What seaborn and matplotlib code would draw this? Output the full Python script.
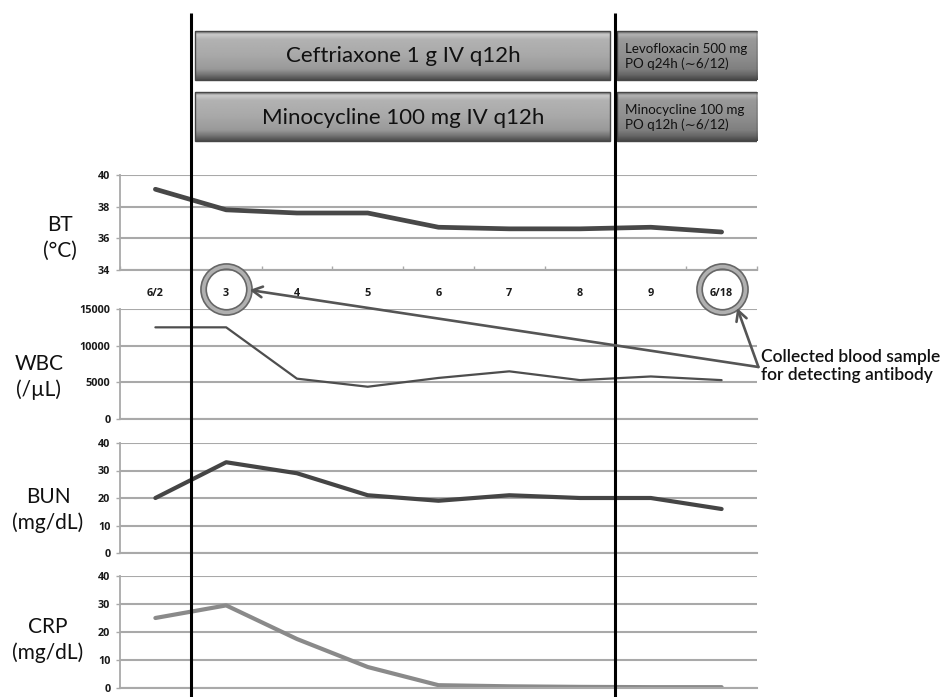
import numpy as np
import pandas as pd
import seaborn as sns
import matplotlib.pyplot as plt
from matplotlib.patches import Rectangle

# ---------------- data ----------------
days = ["6/2", "3", "4", "5", "6", "7", "8", "9", "6/18"]
bt = [39.1, 37.8, 37.6, 37.6, 36.7, 36.6, 36.6, 36.7, 36.4]
wbc = [12500, 12500, 5500, 4400, 5600, 6500, 5300, 5800, 5300]
bun = [20, 33, 29, 21, 19, 21, 20, 20, 16]
crp = [25, 29.5, 17.5, 7.5, 1.0, 0.6, 0.4, 0.3, 0.3]

bt_ticks = [34, 36, 38, 40]
wbc_ticks = [0, 5000, 10000, 15000]
bun_ticks = [0, 10, 20, 30, 40]
crp_ticks = [0, 10, 20, 30, 40]

iv_start = 0.5   # between 6/2 and 3
po_start = 6.5   # between 8 and 9
iv_labels = ["Ceftriaxone 1 g IV q12h", "Minocycline 100 mg IV q12h"]
po_labels = ["Levofloxacin 500 mg\nPO q24h (\u223c6/12)",
             "Minocycline 100 mg\nPO q12h (\u223c6/12)"]
sample_days = ["3", "6/18"]
note = "Collected blood sample\nfor detecting antibody"

# ---------------- style ----------------
sns.set_theme(style="white")
plt.rcParams['font.family'] = ['Lato', 'DejaVu Sans']
TICKFONT = dict(family=['Open Sans', 'DejaVu Sans'], fontweight="bold",
                fontsize=7.8, color="#1a1a1a")

W, H = 945, 697
fig = plt.figure(figsize=(W / 100, H / 100), dpi=100)
fig.patch.set_facecolor("white")


def fax(l, t, r, b):
    return fig.add_axes([l / W, 1 - b / H, (r - l) / W, (b - t) / H])


GRID = "#a9a9a9"
panels = [
    ("BT\n(\u00b0C)", bt, bt_ticks, 175, 270, "#484848", 3.4, (60, 238)),
    ("WBC\n(/\u00b5L)", wbc, wbc_ticks, 309, 419, "#4e4e4e", 1.6, (39, 377)),
    ("BUN\n(mg/dL)", bun, bun_ticks, 443, 553, "#454545", 3.0, (48, 510)),
    ("CRP\n(mg/dL)", crp, crp_ticks, 576, 688, "#8a8a8a", 3.0, (48, 640)),
]

for i, (lab, vals, ticks, top, bot, col, lw, lpos) in enumerate(panels):
    ax = fax(120, top, 757, bot)
    df = pd.DataFrame({"day": days, "v": vals})
    sns.lineplot(data=df, x="day", y="v", ax=ax, color=col, lw=lw,
                 sort=False, solid_capstyle="round")
    ax.set_xlim(-0.5, len(days) - 0.5)
    ax.set_ylim(ticks[0], ticks[-1])
    ax.set_yticks(ticks)
    ax.set_yticklabels([str(t) for t in ticks], **TICKFONT)
    ax.yaxis.grid(True, color=GRID, lw=1.5)
    ax.xaxis.grid(False)
    ax.set_axisbelow(True)
    for s in ("top", "right"):
        ax.spines[s].set_visible(False)
    ax.spines["left"].set_color(GRID)
    ax.spines["left"].set_linewidth(1.3)
    ax.spines["bottom"].set_color(GRID)
    ax.spines["bottom"].set_linewidth(1.5)
    ax.tick_params(axis="y", left=True, length=3, width=1, color=GRID, pad=4)
    ax.set_xlabel("")
    ax.set_ylabel("")
    if i == 0:
        ax.set_xticks(range(len(days)))
        ax.set_xticklabels(days, **TICKFONT)
        ax.tick_params(axis="x", bottom=False, pad=7)
        ax.set_xticks(np.arange(-0.5, len(days)), minor=True)
        ax.tick_params(axis="x", which="minor", bottom=True, direction="in",
                       length=3, color=GRID)
    else:
        ax.set_xticks([])
    fig.text(lpos[0] / W, 1 - lpos[1] / H, lab, ha="center", va="center",
             fontsize=15, linespacing=1.35, color="#111111")

# ---------------- overlay (lines, banners, annotations) ----------------
ov = fig.add_axes([120 / W, 0, 637 / W, 1])
ov.patch.set_visible(False)
ov.axis("off")
xmax = len(days) - 0.5


def banner(x0, x1, y0, y1, dark=False):
    stops_p = [0.0, 0.06, 0.16, 0.5, 0.78, 0.9, 1.0]
    if dark:
        stops_c = [0.40, 0.70, 0.60, 0.56, 0.50, 0.40, 0.28]
    else:
        stops_c = [0.42, 0.80, 0.70, 0.66, 0.60, 0.45, 0.30]
    p = np.linspace(0, 1, 60)
    g = np.interp(p, stops_p, stops_c)[:, None] * np.ones((1, 4))
    ov.imshow(g, cmap="gray", vmin=0, vmax=1, aspect="auto",
              extent=(x0, x1, y1, y0), origin="upper", zorder=2,
              interpolation="bilinear")
    ov.add_patch(Rectangle((x0, y0), x1 - x0, y1 - y0, fill=False,
                           ec="#474747", lw=1.0, zorder=3))


rows = [(31, 80), (92, 141)]
for (y0, y1), ivl, pol in zip(rows, iv_labels, po_labels):
    banner(iv_start + 0.06, po_start - 0.08, y0, y1)
    ov.text((iv_start + po_start) / 2, (y0 + y1) / 2 + 1, ivl, ha="center",
            va="center", fontsize=16, color="#111111", zorder=4)
    banner(po_start + 0.02, xmax, y0, y1, dark=True)
    ov.text(po_start + 0.13, (y0 + y1) / 2 + 1, pol, ha="left", va="center",
            fontsize=9.6, color="#111111", linespacing=1.15, zorder=4)

ov.vlines([iv_start, po_start], 13, H, color="black", lw=2.2, zorder=5)

# circles around sampling days
for d in sample_days:
    xi = days.index(d)
    ov.plot([xi], [289], marker="o", ms=33, mfc="none", mec="#666666",
            mew=5.0, zorder=6)
    ov.plot([xi], [289], marker="o", ms=33, mfc="none", mec="#b0b0b0",
            mew=2.6, zorder=7)

# note and arrows
tx, ty = xmax + 0.02, 367
ov.text(tx + 0.03, 366, note, ha="left", va="center", fontsize=12.5,
        fontweight="semibold", color="#111111", linespacing=1.15, zorder=8)
targets = [(days.index(sample_days[0]) + 0.33, 290),
           (days.index(sample_days[1]) + 0.22, 308)]
for (ax_, ay_) in targets:
    ov.annotate("", xy=(ax_, ay_), xytext=(tx, ty),
                arrowprops=dict(arrowstyle="->,head_length=0.6,head_width=0.32",
                                color="#555555", lw=1.9, shrinkA=0, shrinkB=0),
                annotation_clip=False, zorder=8)

ov.set_xlim(-0.5, xmax)
ov.set_ylim(H, 0)

fig.savefig("out.png", dpi=100, facecolor="white")
